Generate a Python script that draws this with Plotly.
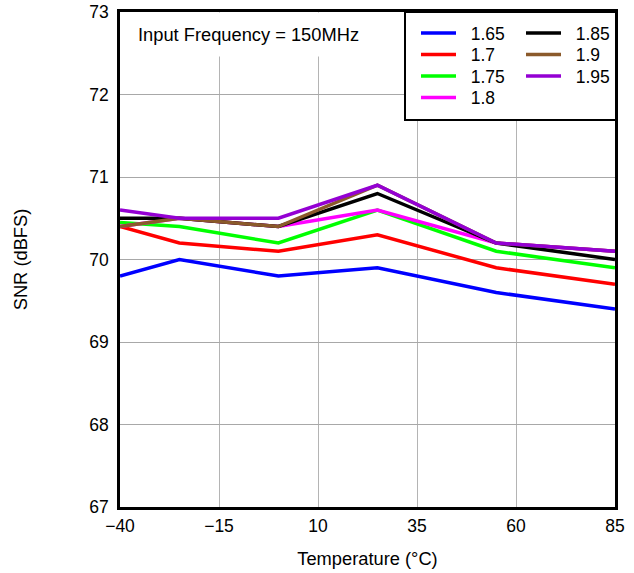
import plotly.graph_objects as go

temps = [-40, -25, 0, 25, 55, 85]
series_names = ["1.65", "1.7", "1.75", "1.8", "1.85", "1.9", "1.95"]
snr_165 = [69.8, 70.0, 69.8, 69.9, 69.6, 69.4]
snr_170 = [70.4, 70.2, 70.1, 70.3, 69.9, 69.7]
snr_175 = [70.45, 70.4, 70.2, 70.6, 70.1, 69.9]
snr_180 = [70.4, 70.5, 70.4, 70.6, 70.2, 70.1]
snr_185 = [70.5, 70.5, 70.4, 70.8, 70.2, 70.0]
snr_190 = [70.4, 70.5, 70.4, 70.9, 70.2, 70.1]
snr_195 = [70.6, 70.5, 70.5, 70.9, 70.2, 70.1]
x_ticks = [-40, -15, 10, 35, 60, 85]
x_ticklabels = ["\u221240", "\u221215", "10", "35", "60", "85"]
y_ticks = [67, 68, 69, 70, 71, 72, 73]

colors = ["#0000FF", "#FF0000", "#00FF00", "#FF00FF", "#000000", "#8B5A2B", "#9400D3"]
values = [snr_165, snr_170, snr_175, snr_180, snr_185, snr_190, snr_195]
# legend row for each series (two columns in a framed box)
legend_rows = ["legend", "legend2", "legend3", "legend4", "legend", "legend2", "legend3"]

FONT = "Liberation Sans, Arial, sans-serif"
FS = 17.5
FT = 18.3

W, H = 634, 573
ml, mr, mt, mb = 120, 19, 12, 66
pw = W - ml - mr
ph = H - mt - mb


def px_x(p):
    return (p - ml) / pw


def px_y(p):
    return (H - mb - p) / ph


fig = go.Figure()
for name, vals, col, lg in zip(series_names, values, colors, legend_rows):
    fig.add_trace(go.Scatter(x=temps, y=vals, mode="lines",
                             name="\u00a0\u00a0" + name,
                             line=dict(color=col, width=3.5), legend=lg))

row_centers = [33, 54.5, 76, 97.5]


def legend_cfg(yc):
    return dict(orientation="h", x=px_x(416), y=px_y(yc), xanchor="left",
                yanchor="middle", bgcolor="rgba(0,0,0,0)", borderwidth=0,
                itemwidth=35, entrywidth=55, entrywidthmode="pixels",
                tracegroupgap=0, font=dict(size=FS))


fig.update_layout(
    width=W, height=H,
    margin=dict(l=ml, r=mr, t=mt, b=mb, pad=0, autoexpand=False),
    paper_bgcolor="white", plot_bgcolor="white",
    font=dict(family=FONT, size=FS, color="black"),
    xaxis=dict(range=[-40, 85], tickvals=x_ticks, ticktext=x_ticklabels,
               showgrid=True, gridcolor="#b4b4b4", gridwidth=1,
               showline=True, linecolor="black", linewidth=2.5, mirror=True,
               ticks="", ticklabelstandoff=1, zeroline=False, automargin=False,
               title=dict(text="Temperature (\u00b0C)", standoff=18,
                          font=dict(size=FT))),
    yaxis=dict(range=[67, 73], tickvals=y_ticks,
               showgrid=True, gridcolor="#a8a8a8", gridwidth=1,
               showline=True, linecolor="black", linewidth=2.5, mirror=True,
               ticks="", ticklabelstandoff=5, zeroline=False, automargin=False,
               title=dict(text="SNR (dBFS)", standoff=57, font=dict(size=FT))),
    legend=legend_cfg(row_centers[0]),
    legend2=legend_cfg(row_centers[1]),
    legend3=legend_cfg(row_centers[2]),
    legend4=legend_cfg(row_centers[3]),
    shapes=[dict(type="rect", xref="paper", yref="paper",
                 x0=px_x(405), x1=px_x(616), y0=px_y(120), y1=1,
                 line=dict(color="black", width=2), fillcolor="white",
                 layer="above")],
    annotations=[dict(text="Input Frequency = 150MHz", xref="paper", yref="paper",
                      x=px_x(126), y=1, xanchor="left", yanchor="top",
                      showarrow=False, bgcolor="white", borderpad=11,
                      font=dict(size=FT))],
)

fig.write_html("out.html", config={"displayModeBar": False},
               post_script="document.body.style.margin='0';")
